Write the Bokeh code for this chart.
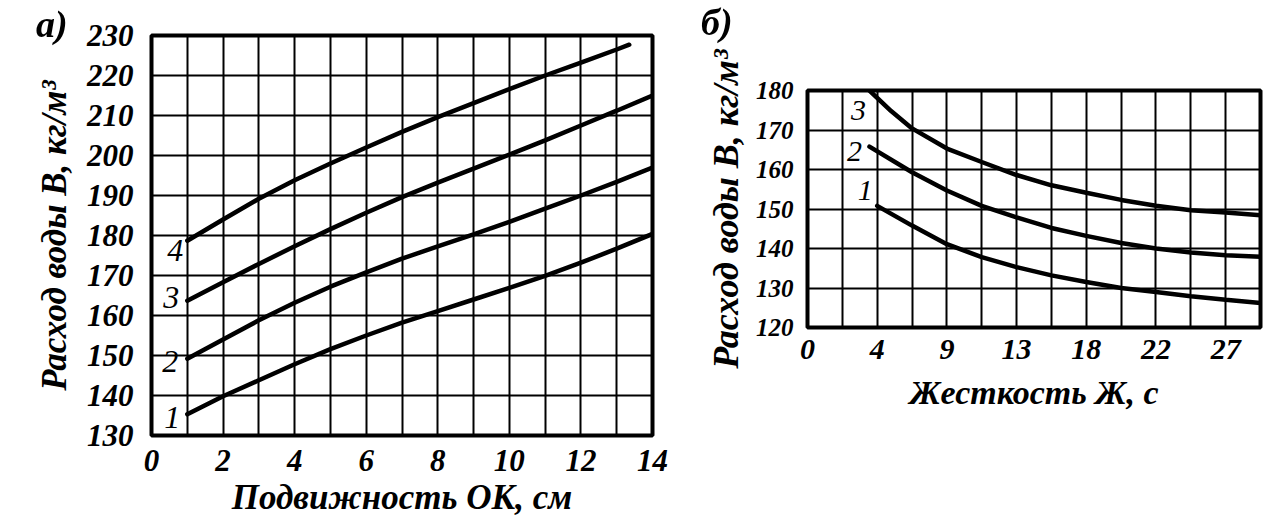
from bokeh.plotting import figure
from bokeh.models import FixedTicker, Range1d, ColumnDataSource, Div
from bokeh.embed import file_html
from bokeh.resources import INLINE
from bokeh.core.properties import value

# ---------- Panel а): water demand vs. slump (Подвижность ОК) ----------
slump_cm = [1, 2, 3, 4, 5, 6, 7, 8, 9, 10, 11, 12, 13, 14]
slump_cm_4 = [1, 2, 3, 4, 5, 6, 7, 8, 9, 10, 11, 12, 13, 13.35]
water_a1 = [135.3, 139.8, 143.8, 147.8, 151.6, 155.0, 158.2, 161.1, 164.0, 166.9, 169.9, 173.2, 176.7, 180.4]
water_a2 = [149.2, 154.0, 158.8, 163.2, 167.2, 170.8, 174.2, 177.3, 180.3, 183.4, 186.7, 190.0, 193.4, 197.0]
water_a3 = [163.7, 168.3, 172.9, 177.3, 181.6, 185.7, 189.6, 193.2, 196.7, 200.2, 203.8, 207.5, 211.2, 215.0]
water_a4 = [178.7, 184.0, 189.2, 193.8, 198.0, 202.0, 205.9, 209.6, 213.1, 216.6, 220.0, 223.2, 226.5, 227.7]
a_curve_names = ["1", "2", "3", "4"]
a_x_ticks = [0, 2, 4, 6, 8, 10, 12, 14]
a_y_ticks = [130, 140, 150, 160, 170, 180, 190, 200, 210, 220, 230]

# ---------- Panel б): water demand vs. stiffness (Жесткость Ж) ----------
stiff_b1 = [4.5, 6.75, 9.0, 11.25, 13.5, 15.75, 18.0, 20.25, 22.5, 24.75, 27.0, 29.25]
water_b1 = [150.8, 145.8, 141.1, 137.8, 135.3, 133.2, 131.5, 130.0, 129.0, 127.9, 127.0, 126.2]
stiff_b2 = [4.0, 6.75, 9.0, 11.25, 13.5, 15.75, 18.0, 20.25, 22.5, 24.75, 27.0, 29.25]
water_b2 = [165.8, 159.3, 154.7, 150.8, 147.9, 145.2, 143.2, 141.4, 140.0, 139.0, 138.3, 137.9]
stiff_b3 = [4.0, 5.4, 6.75, 9.0, 11.25, 13.5, 15.75, 18.0, 20.25, 22.5, 24.75, 27.0, 29.25]
water_b3 = [180.0, 174.8, 170.4, 165.3, 161.9, 158.6, 156.0, 154.1, 152.3, 150.8, 149.7, 149.1, 148.4]
b_curve_names = ["1", "2", "3"]
b_x_ticks = [0, 4.5, 9, 13.5, 18, 22.5, 27]
b_x_tick_labels = ["0", "4", "9", "13", "18", "22", "27"]
b_y_ticks = [120, 130, 140, 150, 160, 170, 180]
panel_letters = ["а)", "б)"]

FONT = "Liberation Serif"


def base_style(p, tick_size, ytick_size, label_size):
    p.outline_line_color = "black"
    p.outline_line_width = 4
    p.outline_line_alpha = 1
    p.background_fill_color = "white"
    p.border_fill_color = "white"
    for g in (p.xgrid[0], p.ygrid[0]):
        g.grid_line_color = "black"
        g.grid_line_width = 2
        g.grid_line_alpha = 1
    for ax, size in ((p.xaxis[0], tick_size), (p.yaxis[0], ytick_size)):
        ax.axis_line_color = None
        ax.major_tick_line_color = None
        ax.minor_tick_line_color = None
        ax.major_label_text_font = FONT
        ax.major_label_text_font_style = "bold italic"
        ax.major_label_text_font_size = f"{size}px"
        ax.major_label_text_color = "black"
        ax.axis_label_text_font = FONT
        ax.axis_label_text_font_style = "bold italic"
        ax.axis_label_text_font_size = f"{label_size}px"
        ax.axis_label_text_color = "black"


# ----- figure а -----
pa = figure(width=690, height=526, output_backend="svg", toolbar_location=None,
            x_range=Range1d(0, 14), y_range=Range1d(130, 230),
            min_border_left=151, min_border_right=32, min_border_top=35, min_border_bottom=91)
base_style(pa, 31, 31, 35)
pa.xaxis[0].ticker = FixedTicker(ticks=a_x_ticks)
pa.yaxis[0].ticker = FixedTicker(ticks=a_y_ticks)
pa.xgrid[0].ticker = FixedTicker(ticks=list(range(0, 15)))
pa.ygrid[0].ticker = FixedTicker(ticks=a_y_ticks)
pa.xaxis[0].major_label_standoff = 8
pa.yaxis[0].major_label_standoff = 12
pa.xaxis[0].axis_label = "Подвижность ОК, см"
pa.yaxis[0].axis_label = "Расход воды В, кг/м³"
pa.xaxis[0].axis_label_standoff = 4
pa.yaxis[0].axis_label_standoff = 10

a_xs = [slump_cm, slump_cm, slump_cm, slump_cm_4]
a_ys = [water_a1, water_a2, water_a3, water_a4]
for xs, ys in zip(a_xs, a_ys):
    pa.line(xs, ys, line_color="black", line_width=4.5, line_cap="round")

a_lab = ColumnDataSource(dict(
    x=[xs[0] for xs in a_xs], y=[ys[0] for ys in a_ys], t=a_curve_names,
    dx=[-15, -17, -16, -12], dy=[3, 3, -3, 10]))
pa.text(x="x", y="y", text="t", source=a_lab, x_offset="dx", y_offset="dy",
        text_font=value(FONT), text_font_style="italic", text_font_size="32px",
        text_align="center", text_baseline="middle", text_color="black")

# ----- figure б -----
pb = figure(width=585, height=526, output_backend="svg", toolbar_location=None,
            x_range=Range1d(0, 29.25), y_range=Range1d(120, 180),
            min_border_left=122, min_border_right=5, min_border_top=90, min_border_bottom=199)
base_style(pb, 30, 25, 36)
pb.xaxis[0].ticker = FixedTicker(ticks=b_x_ticks)
pb.xaxis[0].major_label_overrides = {t: l for t, l in zip(b_x_ticks, b_x_tick_labels)}
pb.yaxis[0].ticker = FixedTicker(ticks=b_y_ticks)
pb.xgrid[0].ticker = FixedTicker(ticks=[i * 2.25 for i in range(14)])
pb.ygrid[0].ticker = FixedTicker(ticks=b_y_ticks)
pb.xaxis[0].major_label_standoff = 6
pb.yaxis[0].major_label_standoff = 8
pb.xaxis[0].axis_label = "Жесткость Ж, с"
pb.xaxis[0].axis_label_text_font_size = "34px"
pb.yaxis[0].axis_label = "Расход воды В, кг/м³"
pb.xaxis[0].axis_label_standoff = 12
pb.yaxis[0].axis_label_standoff = 7

b_xs = [stiff_b1, stiff_b2, stiff_b3]
b_ys = [water_b1, water_b2, water_b3]
for xs, ys in zip(b_xs, b_ys):
    pb.line(xs, ys, line_color="black", line_width=4.5, line_cap="round")

b_lab = ColumnDataSource(dict(
    x=[xs[0] for xs in b_xs], y=[ys[0] for ys in b_ys], t=b_curve_names,
    dx=[-12, -15, -11], dy=[-15, 5, 20]))
pb.text(x="x", y="y", text="t", source=b_lab, x_offset="dx", y_offset="dy",
        text_font=value(FONT), text_font_style="italic", text_font_size="30px",
        text_align="center", text_baseline="middle", text_color="black")

# ----- panel letters (outside the plot frames) -----
span_css = ("position:fixed; font-family:'Liberation Serif'; font-style:italic; "
            "font-weight:bold; font-size:38px; line-height:38px; color:black; margin:0;")
letters = Div(text=(
    f'<span style="{span_css} left:36px; top:5px;">{panel_letters[0]}</span>'
    f'<span style="{span_css} left:701px; top:3px;">{panel_letters[1]}</span>'
))

# Independent roots placed side by side (a Row would align the two frames).
TEMPLATE = """{% block postamble %}
<style>
  body { display: flex; flex-direction: row; align-items: flex-start; }
</style>
{% endblock %}
"""

open("out.html", "w").write(file_html([pa, pb, letters], INLINE, template=TEMPLATE))
